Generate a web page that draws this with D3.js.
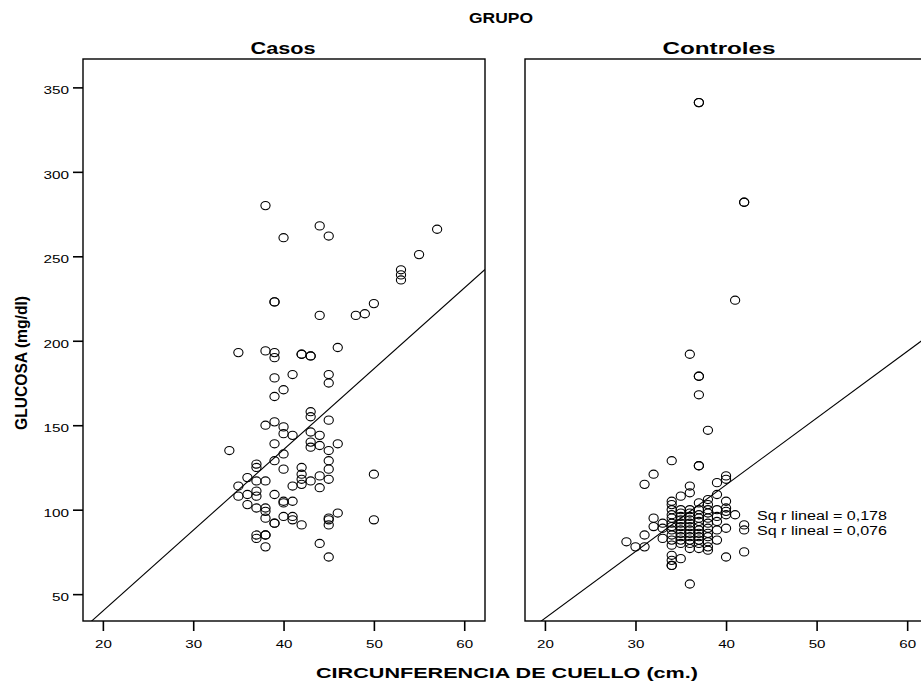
<!DOCTYPE html>
<html>
<head>
<meta charset="utf-8">
<script src="https://cdn.jsdelivr.net/npm/d3@7"></script>
<style>
  html, body { margin: 0; padding: 0; background: #fff; }
  svg { display: block; }
  text { font-family: "Liberation Sans", Arial, sans-serif; fill: #000; }
</style>
</head>
<body>
<svg id="chart" width="921" height="684"></svg>
<script>
// ---------------- DATA ----------------
const groupTitle = "GRUPO";
const panelNames = ["Casos", "Controles"];
const xTitle = "CIRCUNFERENCIA DE CUELLO (cm.)";
const yTitle = "GLUCOSA (mg/dl)";
const xTicks = [20, 30, 40, 50, 60];
const yTicks = [50, 100, 150, 200, 250, 300, 350];
const xDomain = [17.8, 62.3];
const yDomain = [34.1, 366.8];

// Casos: circunferencia de cuello (cm) / glucosa (mg/dl)
const casosX = [38,44,45,40,55,57,53,53,53,39,39,44,48,49,50,35,38,39,39,42,42,43,43,46,39,41,45,45,40,39,
  43,43,45,38,39,40,40,41,43,44,39,43,43,44,46,34,45,40,39,45,37,37,40,45,42,42,42,42,43,44,
  45,44,41,50,36,37,38,35,35,36,37,37,39,40,40,41,36,37,38,38,38,39,39,40,41,41,42,45,45,45,
  46,50,37,37,38,38,38,44,45];
const casosY = [280,268,262,261,251,266,242,239,236,223,223,215,215,216,222,193,194,193,190,192,192,191,191,196,178,180,180,175,171,167,
  158,155,153,150,152,149,145,144,146,144,139,140,137,138,139,135,135,133,129,129,127,125,124,124,125,121,118,115,117,120,
  118,113,114,121,119,117,117,114,108,109,111,108,109,105,104,105,103,101,101,99,95,92,92,96,96,94,91,95,94,91,
  98,94,85,83,85,85,78,80,72];

// Controles
const controlesX = [37,37,42,42,41,36,37,37,37,38,34,32,37,37,40,40,31,39,36,36,35,38,39,37,34,38,40,40,40,40,
  41,42,42,40,42,40,32,33,32,31,29,30,31,33,33,34,34,34,35,34,38,39,37,36,
  34,34,34,34,34,34,34,34,34,34,
  35,35,35,35,35,35,35,35,35,35,35,
  36,36,36,36,36,36,36,36,36,36,36,36,
  37,37,37,37,37,37,37,37,37,37,
  38,38,38,38,38,38,38,38,38,
  39,39,39,39];
const controlesY = [341,341,282,282,224,192,179,179,168,147,129,121,126,126,120,118,115,116,114,110,108,106,109,104,105,103,105,101,99,97,
  97,91,88,89,75,72,95,92,90,85,81,78,78,83,89,73,70,67,71,67,76,82,77,56,
  103,100,97,95,92,90,88,85,82,79,
  100,98,96,94,92,90,88,86,84,82,80,
  100,98,96,94,92,90,88,86,84,82,80,77,
  100,97,95,93,90,88,86,84,82,80,
  100,98,95,92,89,86,84,81,78,
  100,96,93,88];

// Fitted linear regression lines (intercept, slope) per panel
const fitIntercept = [-55.6, -43.3];
const fitSlope = [4.78, 3.95];
const rsqLabels = ["Sq r lineal = 0,178", "Sq r lineal = 0,076"];

// ---------------- LAYOUT ----------------
const svg = d3.select("#chart");
const plotTop = 59, plotBottom = 621;
const panelRanges = [[83, 485], [525, 928]];

const y = d3.scaleLinear().domain(yDomain).range([plotBottom, plotTop]);

function fit(sel, w) {
  sel.attr("textLength", w).attr("lengthAdjust", "spacingAndGlyphs");
  return sel;
}

const panelsData = [
  {x: casosX, y: casosY},
  {x: controlesX, y: controlesY}
];

panelsData.forEach((pd, i) => {
  const x = d3.scaleLinear().domain(xDomain).range(panelRanges[i]);
  const g = svg.append("g");
  const clipId = "clip" + i;
  svg.append("clipPath").attr("id", clipId).append("rect")
    .attr("x", panelRanges[i][0]).attr("y", plotTop)
    .attr("width", panelRanges[i][1] - panelRanges[i][0]).attr("height", plotBottom - plotTop);

  // x axis
  const xa = g.append("g").attr("transform", `translate(0,${plotBottom})`)
    .call(d3.axisBottom(x).tickValues(xTicks).tickSize(10).tickPadding(9));
  xa.select(".domain").remove();
  xa.selectAll(".tick line").attr("stroke", "#000").attr("stroke-width", 1.6);
  xa.selectAll(".tick text").style("font-size", "11.5px").attr("fill", "#000")
    .each(function(d) { fit(d3.select(this), String(d).length * 8.4); });

  if (i === 0) {
    const ya = g.append("g").attr("transform", `translate(${panelRanges[i][0]},0)`)
      .call(d3.axisLeft(y).tickValues(yTicks).tickSize(10).tickPadding(4));
    ya.select(".domain").remove();
    ya.selectAll(".tick line").attr("stroke", "#000").attr("stroke-width", 1.6);
    ya.selectAll(".tick text").style("font-size", "11.5px").attr("fill", "#000").attr("dy", "0.55em")
      .each(function(d) { fit(d3.select(this), String(d).length * 8.5); });
  }

  // regression line
  const xs = xDomain;
  g.append("line")
    .attr("clip-path", `url(#${clipId})`)
    .attr("x1", x(xs[0])).attr("y1", y(fitIntercept[i] + fitSlope[i] * xs[0]))
    .attr("x2", x(xs[1])).attr("y2", y(fitIntercept[i] + fitSlope[i] * xs[1]))
    .attr("stroke", "#000").attr("stroke-width", 1.1);

  // points
  const pts = pd.x.map((v, k) => [v, pd.y[k]]);
  g.append("g").selectAll("ellipse").data(pts).join("ellipse")
    .attr("cx", d => x(d[0])).attr("cy", d => y(d[1]))
    .attr("rx", 4.6).attr("ry", 4.1)
    .attr("fill", "none").attr("stroke", "#000").attr("stroke-width", 1.1);

  // frame
  g.append("rect")
    .attr("x", panelRanges[i][0]).attr("y", plotTop)
    .attr("width", panelRanges[i][1] - panelRanges[i][0]).attr("height", plotBottom - plotTop)
    .attr("fill", "none").attr("stroke", "#000").attr("stroke-width", 1.4);
});

// panel titles
fit(svg.append("text").attr("x", 283).attr("y", 53.5).attr("text-anchor", "middle")
  .style("font-size", "16px").style("font-weight", "bold").text(panelNames[0]), 65);
fit(svg.append("text").attr("x", 719).attr("y", 53.5).attr("text-anchor", "middle")
  .style("font-size", "16px").style("font-weight", "bold").text(panelNames[1]), 113);

// group title
fit(svg.append("text").attr("x", 501).attr("y", 22.5).attr("text-anchor", "middle")
  .style("font-size", "15px").style("font-weight", "bold").text(groupTitle), 64);

// axis titles
fit(svg.append("text").attr("x", 507).attr("y", 678).attr("text-anchor", "middle")
  .style("font-size", "14.5px").style("font-weight", "bold").text(xTitle), 382);
fit(svg.append("text").attr("transform", "translate(26.5,363) rotate(-90)").attr("text-anchor", "middle")
  .style("font-size", "16px").style("font-weight", "bold").text(yTitle), 134);

// R² annotations
rsqLabels.forEach((t, k) => {
  fit(svg.append("text").attr("x", 757).attr("y", 519.5 + k * 15.5)
    .style("font-size", "12px").text(t), 130);
});
</script>
</body>
</html>
